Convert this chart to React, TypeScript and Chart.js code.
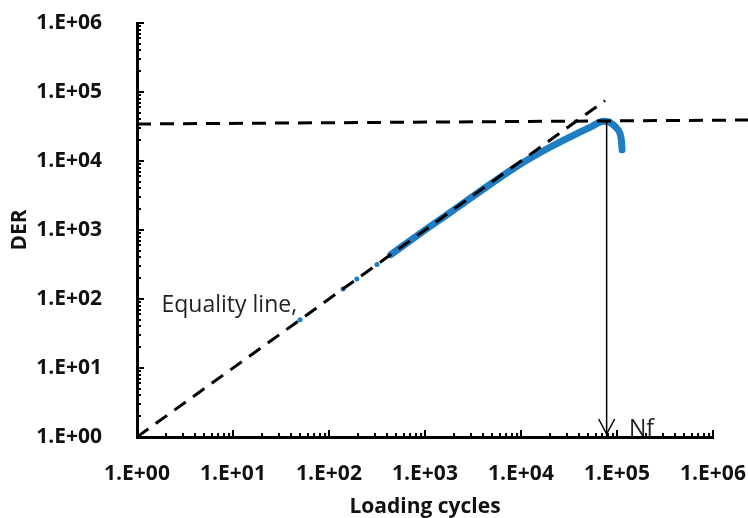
import React, { useEffect, useRef } from "react";
import { Chart, registerables } from "chart.js";

Chart.register(...registerables);

const xTickValues = [1, 10, 100, 1000, 10000, 100000, 1000000];
const xTickLabels = ["1.E+00", "1.E+01", "1.E+02", "1.E+03", "1.E+04", "1.E+05", "1.E+06"];
const yTickValues = [1, 10, 100, 1000, 10000, 100000, 1000000];
const yTickLabels = ["1.E+00", "1.E+01", "1.E+02", "1.E+03", "1.E+04", "1.E+05", "1.E+06"];

const xTitle = "Loading cycles";
const yTitle = "DER";

// early scattered measurements
const dotCycles = [50, 140, 195, 316];
const dotDER = [50, 140, 195, 316];

// continuous DER curve
const curveCycles = [440, 1000, 2000, 5000, 10000, 20000, 40000, 55000, 72000, 82000, 91000, 100000, 107000, 111000, 113000];
const curveDER = [440, 1000, 1960, 4800, 9100, 15800, 25700, 31800, 37600, 37000, 33500, 29500, 25500, 20000, 14500];

// equality line (DER = N)
const equalityCycles = [1, 75000];
const equalityDER = [1, 75000];

// horizontal plateau line
const plateauCycles = [1, 2400000];
const plateauDER = [34400, 39300];

// Nf marker
const nfCycles = [78000, 78000];
const nfDER = [37000, 1];

const equalityLabel = { text: "Equality line,", x: 1.8, y: 80 };
const nfLabel = { text: "Nf", x: 133000, y: 1.3 };

const BLUE = "rgb(30,125,195)";
const FONT = "'Open Sans', 'Liberation Sans', sans-serif";

const toPts = (xs: number[], ys: number[]) => xs.map((v, i) => ({ x: v, y: ys[i] }));

const customPlugin = {
  id: "customDraw",
  afterDraw(chart: any) {
    const { ctx, chartArea } = chart;
    const xs = chart.scales.x;
    const ys = chart.scales.y;
    ctx.save();
    ctx.strokeStyle = "#000";
    ctx.lineWidth = 2;
    ctx.beginPath();
    for (let d = 0; d <= 6; d++) {
      for (let m = 1; m < 10; m++) {
        const v = m * Math.pow(10, d);
        if (v > 1000000) break;
        const major = m === 1;
        const len = major ? 7 : 4;
        const px = Math.round(xs.getPixelForValue(v));
        ctx.moveTo(px, chartArea.bottom);
        ctx.lineTo(px, chartArea.bottom - len);
        const py = Math.round(ys.getPixelForValue(v));
        ctx.moveTo(chartArea.left, py);
        ctx.lineTo(chartArea.left + len, py);
      }
    }
    ctx.stroke();

    // arrow head of Nf line
    const ax = xs.getPixelForValue(nfCycles[1]);
    const ay = ys.getPixelForValue(nfDER[1]) - 3;
    ctx.lineWidth = 1.5;
    ctx.beginPath();
    ctx.moveTo(ax - 8, ay - 15);
    ctx.lineTo(ax, ay);
    ctx.lineTo(ax + 8, ay - 15);
    ctx.stroke();

    // text labels
    ctx.fillStyle = "#222";
    ctx.font = `23px ${FONT}`;
    ctx.textAlign = "left";
    ctx.textBaseline = "middle";
    ctx.fillText(equalityLabel.text, xs.getPixelForValue(equalityLabel.x), ys.getPixelForValue(equalityLabel.y));
    ctx.fillText(nfLabel.text, xs.getPixelForValue(nfLabel.x), ys.getPixelForValue(nfLabel.y));
    ctx.restore();
  },
};

const zeroPad = (s: any) => {
  s.paddingTop = 0;
  s.paddingBottom = 0;
  s.paddingLeft = 0;
  s.paddingRight = 0;
};

export default function App() {
  const ref = useRef<HTMLCanvasElement | null>(null);
  useEffect(() => {
    document.body.style.margin = "0";
    const canvas = ref.current;
    if (!canvas) return;
    const chart = new Chart(canvas, {
      type: "line",
      data: {
        datasets: [
          {
            label: "Equality line",
            data: toPts(equalityCycles, equalityDER),
            borderColor: "#000",
            borderWidth: 3,
            borderDash: [14, 9],
            pointRadius: 0,
            fill: false,
          },
          {
            label: "Plateau",
            data: toPts(plateauCycles, plateauDER),
            borderColor: "#000",
            borderWidth: 3,
            borderDash: [14, 9],
            pointRadius: 0,
            fill: false,
            clip: false as any,
          },
          {
            label: "Nf",
            data: toPts(nfCycles, nfDER),
            borderColor: "#000",
            borderWidth: 1.5,
            pointRadius: 0,
            fill: false,
          },
          {
            label: "DER curve",
            data: toPts(curveCycles, curveDER),
            borderColor: BLUE,
            borderWidth: 7,
            borderCapStyle: "round",
            borderJoinStyle: "round",
            cubicInterpolationMode: "monotone",
            pointRadius: 0,
            fill: false,
          },
          {
            label: "DER points",
            data: toPts(dotCycles, dotDER),
            borderColor: BLUE,
            backgroundColor: BLUE,
            showLine: false,
            pointRadius: 2.5,
            pointBorderWidth: 0,
          },
        ],
      },
      options: {
        responsive: false,
        animation: false,
        layout: { padding: { top: 23, right: 35, left: 0, bottom: 0 } },
        plugins: { legend: { display: false }, tooltip: { enabled: false } },
        scales: {
          x: {
            type: "logarithmic",
            min: 1,
            max: 1000000,
            grid: { display: false },
            border: { display: true, color: "#000", width: 3 },
            afterBuildTicks: (s: any) => {
              s.ticks = xTickValues.map((v) => ({ value: v }));
            },
            afterFit: (s: any) => {
              s.height = 81;
              zeroPad(s);
            },
            ticks: {
              autoSkip: false,
              maxRotation: 0,
              padding: 16,
              color: "#111",
              font: { family: FONT, size: 21, weight: "bold" },
              callback: (_v: any, i: number) => xTickLabels[i],
            },
            title: {
              display: true,
              text: xTitle,
              color: "#111",
              font: { family: FONT, size: 21, weight: "bold", lineHeight: 1 },
              padding: { top: 0, bottom: 0.5 },
            },
          },
          y: {
            type: "logarithmic",
            min: 1,
            max: 1000000,
            grid: { display: false },
            border: { display: true, color: "#000", width: 3 },
            afterBuildTicks: (s: any) => {
              s.ticks = yTickValues.map((v) => ({ value: v }));
            },
            afterFit: (s: any) => {
              s.width = 137;
              zeroPad(s);
            },
            ticks: {
              autoSkip: false,
              padding: 27,
              color: "#111",
              font: { family: FONT, size: 21, weight: "bold" },
              callback: (_v: any, i: number) => yTickLabels[i],
            },
            title: {
              display: true,
              text: yTitle,
              color: "#111",
              font: { family: FONT, size: 21, weight: "bold", lineHeight: 1 },
              padding: { top: 9.5, bottom: 0 },
            },
          },
        },
      },
      plugins: [customPlugin],
    } as any);
    return () => chart.destroy();
  }, []);
  return (
    <div style={{ width: 748, height: 518 }}>
      <canvas ref={ref} width={748} height={518} />
    </div>
  );
}
